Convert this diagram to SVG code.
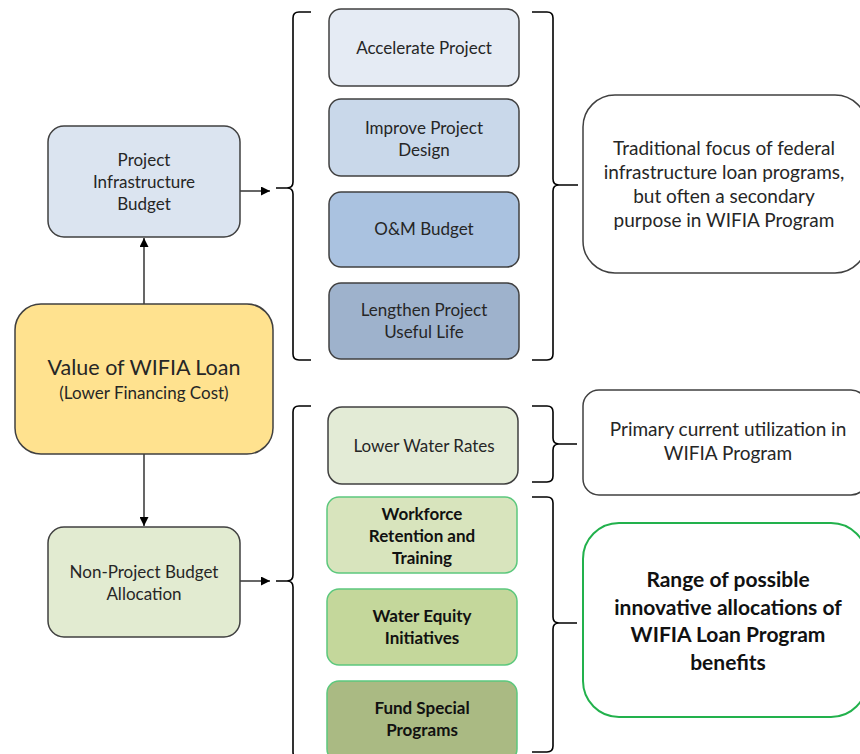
<svg xmlns="http://www.w3.org/2000/svg" width="860" height="754" viewBox="0 0 860 754">
<defs>
<marker id="ah" viewBox="0 0 10 10" refX="10" refY="5" markerWidth="9" markerHeight="9" markerUnits="userSpaceOnUse" orient="auto">
<path d="M0,0 L10,5 L0,10 z" fill="#000"/>
</marker>
<style>
text{font-family:Lato,"Liberation Sans",sans-serif;fill:#262626;text-anchor:middle}
.t{font-size:17px}
.m{font-size:19px}
.b{font-size:17px;font-weight:bold;fill:#111}
.r{font-size:21px;font-weight:bold;fill:#111}
.nb{stroke:#404040;stroke-width:1.5}
.gb{stroke:#5CC87D;stroke-width:1.5}
.br{fill:none;stroke:#000;stroke-width:1.6}
.cn{fill:none;stroke:#000;stroke-width:1.2}
</style>
</defs>
<rect width="860" height="754" fill="#fff"/>
<g id="connectors">
<path class="cn" d="M144,304 V238" marker-end="url(#ah)"/>
<path class="cn" d="M144,454 V526" marker-end="url(#ah)"/>
<path class="cn" d="M240,191 H270" marker-end="url(#ah)"/>
<path class="cn" d="M240,581 H270" marker-end="url(#ah)"/>
<path class="br" d="M311,12 H299 Q293,12 293,18 V182 Q293,188 287,188 H276 H287 Q293,188 293,194 V354 Q293,360 299,360 H311"/>
<path class="br" d="M532,12 H547 Q553,12 553,18 V179 Q553,185 559,185 H578 H559 Q553,185 553,191 V354 Q553,360 547,360 H532"/>
<path class="br" d="M311,406 H299 Q293,406 293,412 V575 Q293,581 287,581 H276 H287 Q293,581 293,587 V752 Q293,758 299,758 H311"/>
<path class="br" d="M532,406 H547 Q553,406 553,412 V438 Q553,444 559,444 H577 H559 Q553,444 553,450 V476 Q553,482 547,482 H532"/>
<path class="br" d="M532,497 H547 Q553,497 553,503 V617 Q553,623 559,623 H577 H559 Q553,623 553,629 V746 Q553,752 547,752 H532"/>
</g>
<g id="pib"><rect class="nb" x="48" y="126" width="192" height="111" rx="16" fill="#DBE4F0"/>
<text class="t" x="144" y="166">Project</text><text class="t" x="144" y="188">Infrastructure</text><text class="t" x="144" y="210">Budget</text></g>
<g id="value"><rect class="nb" x="15" y="304" width="258" height="150" rx="26" fill="#FFE28F"/>
<text x="144" y="375" style="font-size:21.5px">Value of WIFIA Loan</text><text x="144" y="399" style="font-size:17px">(Lower Financing Cost)</text></g>
<g id="npb"><rect class="nb" x="48" y="527" width="192" height="110" rx="16" fill="#E2EBD1"/>
<text class="t" x="144" y="578">Non-Project Budget</text><text class="t" x="144" y="600">Allocation</text></g>
<g id="accel"><rect class="nb" x="329" y="9" width="190" height="77" rx="12" fill="#E5EBF4"/>
<text class="t" x="424" y="54">Accelerate Project</text></g>
<g id="improve"><rect class="nb" x="329" y="99" width="190" height="77" rx="12" fill="#C9D8EA"/>
<text class="t" x="424" y="134">Improve Project</text><text class="t" x="424" y="156">Design</text></g>
<g id="om"><rect class="nb" x="329" y="192" width="190" height="75" rx="12" fill="#AAC2E0"/>
<text class="t" x="424" y="235">O&amp;M Budget</text></g>
<g id="lengthen"><rect class="nb" x="329" y="283" width="190" height="76" rx="12" fill="#9EB2CC"/>
<text class="t" x="424" y="316">Lengthen Project</text><text class="t" x="424" y="338">Useful Life</text></g>
<g id="water"><rect class="nb" x="328" y="407" width="190" height="77" rx="14" fill="#E3EBD6"/>
<text class="t" x="424" y="452">Lower Water Rates</text></g>
<g id="workforce"><rect class="gb" x="327" y="497" width="190" height="76" rx="12" fill="#D8E4BD"/>
<text class="b" x="422" y="520">Workforce</text><text class="b" x="422" y="542">Retention and</text><text class="b" x="422" y="564">Training</text></g>
<g id="equity"><rect class="gb" x="327" y="589" width="190" height="76" rx="12" fill="#C4D79B"/>
<text class="b" x="422" y="622">Water Equity</text><text class="b" x="422" y="644">Initiatives</text></g>
<g id="fund"><rect class="gb" x="327" y="681" width="190" height="80" rx="12" fill="#AABA83"/>
<text class="b" x="422" y="714">Fund Special</text><text class="b" x="422" y="736">Programs</text></g>
<g id="traditional"><rect class="nb" x="583" y="95" width="284" height="178" rx="32" fill="#fff"/>
<text class="m" x="724" y="155">Traditional focus of federal</text><text class="m" x="724" y="179">infrastructure loan programs,</text><text class="m" x="724" y="203">but often a secondary</text><text class="m" x="724" y="227">purpose in WIFIA Program</text></g>
<g id="primary"><rect class="nb" x="583" y="390" width="284" height="105" rx="16" fill="#fff"/>
<text class="m" x="728" y="436">Primary current utilization in</text><text class="m" x="728" y="460">WIFIA Program</text></g>
<g id="range"><rect x="583" y="523" width="284" height="194" rx="36" fill="#fff" stroke="#22B14C" stroke-width="2"/>
<text class="r" x="728" y="587">Range of possible</text><text class="r" x="728" y="615">innovative allocations of</text><text class="r" x="728" y="642">WIFIA Loan Program</text><text class="r" x="728" y="670">benefits</text></g>
</svg>
